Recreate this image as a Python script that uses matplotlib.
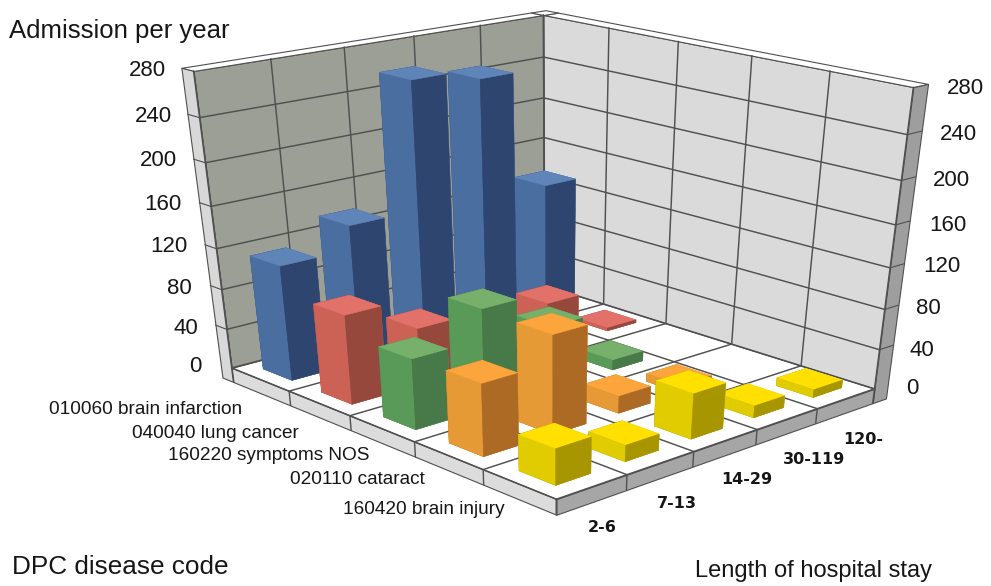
import numpy as np
import matplotlib
matplotlib.use("Agg")
import matplotlib.pyplot as plt
from mpl_toolkits.mplot3d.art3d import Poly3DCollection

W, H = 991, 586

diseases = ["160420 brain injury", "020110 cataract", "160220 symptoms NOS",
            "040040 lung cancer", "010060 brain infarction"]
stays = ["2-6", "7-13", "14-29", "30-119", "120-"]
z_ticks = [0, 40, 80, 120, 160, 200, 240, 280]

brain_infarction = [114, 137, 258, 248, 133]
lung_cancer = [88, 57, 18, 47, 3]
symptoms_nos = [69, 98, 63, 10, 0]
cataract = [70, 96, 17, 8, 0]
brain_injury = [35, 16, 45, 12, 8]
series = [brain_injury, cataract, symptoms_nos, lung_cancer, brain_infarction]

# colours per series: top, left face, right face
palette = [("#FFE000", "#E0CC00", "#A89600"),
           ("#FBA53C", "#E59A35", "#AD6A24"),
           ("#76B06A", "#5A9A58", "#477A48"),
           ("#E2716A", "#CC6256", "#96483C"),
           ("#5F84B8", "#4A6E9F", "#2E4570")]

# text anchors on the canvas
left_tick_xy = [(202, 366), (198, 328), (192, 288), (188, 247), (182, 205), (177, 161), (172, 117), (166, 70)]
right_tick_xy = [(906, 388), (910, 350), (916, 309), (923, 267), (929, 225), (933, 181), (940, 135), (947, 89)]
disease_xy = [(505, 509), (425, 480), (370, 456), (299, 434), (242, 410)]
stay_xy = [(602, 527), (677, 503), (747, 480), (814, 459), (863, 439)]

# calibration of the view: world (x, y, z) and where it lands on the canvas
world_pts = np.array([
    (0, 0, 0), (5, 0, 0), (0, 5, 0), (5, 5, 0),
    (0, 5, 280), (5, 0, 280), (5, 5, 280),
    (1, 0, 0), (4, 0, 0), (0, 1, 0), (0, 4, 0), (0, 3, 0),
    (0, 5, 240), (0, 5, 200), (0, 5, 40), (5, 0, 240), (5, 0, 40),
    (1, 5, 280), (2, 5, 280), (4, 5, 280), (5, 4, 280),
    (5, 4, 0), (5, 3, 0)], float)
canvas_pts = np.array([
    (556, 498), (874, 390), (232, 369), (547, 286),
    (195, 72), (913, 88), (543, 14),
    (627, 475), (817, 408), (484, 471), (290, 392), (350, 415),
    (200, 117), (205, 162), (225, 328), (908, 133), (880, 350),
    (270, 58), (343, 47), (480, 27), (610, 28),
    (602, 303), (665, 323)], float)


def fit_camera():
    N = np.diag([1 / 5, 1 / 5, 1 / 280, 1.0])
    rows = []
    for (x, y, z), (px, py) in zip(world_pts, canvas_pts):
        X = np.array([x / 5, y / 5, z / 280, 1.0])
        u, v = px / 1000, (H - py) / 1000
        rows.append(np.r_[X, 0 * X, -u * X])
        rows.append(np.r_[0 * X, X, -v * X])
    P = np.linalg.svd(np.array(rows))[2][-1].reshape(3, 4)
    return np.diag([1000, 1000, 1.0]) @ P @ N


plt.rcParams["font.family"] = ["Liberation Sans", "DejaVu Sans"]
fig = plt.figure(figsize=(W / 100, H / 100), dpi=100, facecolor="white")
ax = fig.add_axes([0, (H - W) / 2 / H, 1, W / H], projection="3d")
ax.set_axis_off()
ax.computed_zorder = False
P_disp = fit_camera()


def camera():
    inv = ax.transData.inverted()
    p0, p1 = inv.transform((0, 0)), inv.transform((1, 1))
    T = np.array([[p1[0] - p0[0], 0, p0[0]], [0, p1[1] - p0[1], p0[1]], [0, 0, 1]])
    P = T @ P_disp
    P = P / (P[2] @ np.array([0, 0, 0, 1.0]))
    return np.array([P[0], P[1], [0, 0, 0, -1.0], P[2]])


ax.get_proj = camera

GRID = "#505050"
tx, ty, slab = 0.24, 0.2, -15
xmax, ymax, ztop = 5 + tx, 5 + ty, 280


def face(verts, color, z):
    pc = Poly3DCollection([verts], facecolors=color, edgecolors=GRID, linewidths=0.8)
    pc.set_zorder(z)
    ax.add_collection3d(pc)


def seg(a, b, z=3, lw=1.05, c=GRID):
    ax.plot([a[0], b[0]], [a[1], b[1]], [a[2], b[2]], color=c, lw=lw, zorder=z,
            solid_capstyle="round")


# walls, floor and their slab
face([(0, 5, 0), (5, 5, 0), (5, 5, ztop), (0, 5, ztop)], "#9C9F96", 1)
face([(5, 0, 0), (5, 5, 0), (5, 5, ztop), (5, 0, ztop)], "#DADADA", 1)
face([(0, 0, 0), (5, 0, 0), (5, 5, 0), (0, 5, 0)], "#FFFFFF", 1)
face([(0, 5, ztop), (5, 5, ztop), (5, ymax, ztop), (0, ymax, ztop)], "#FFFFFF", 1)
face([(5, 0, ztop), (5, 5, ztop), (xmax, 5, ztop), (xmax, 0, ztop)], "#FFFFFF", 1)
face([(5, 5, ztop), (xmax, 5, ztop), (xmax, ymax, ztop), (5, ymax, ztop)], "#FFFFFF", 1)
face([(0, 5, slab), (0, ymax, slab), (0, ymax, ztop), (0, 5, ztop)], "#D8D8D8", 2)
face([(5, 0, slab), (xmax, 0, slab), (xmax, 0, ztop), (5, 0, ztop)], "#9E9E9E", 2)
face([(0, 0, slab), (0, 5, slab), (0, 5, 0), (0, 0, 0)], "#DCDCDC", 2)
face([(0, 0, slab), (5, 0, slab), (5, 0, 0), (0, 0, 0)], "#A6A6A6", 2)

for t in z_ticks[1:-1]:
    seg((0, 5, t), (5, 5, t))
    seg((5, 5, t), (5, 0, t))
    seg((0, ymax, t), (0, 5, t), lw=0.8)
    seg((xmax, 0, t), (5, 0, t), lw=0.8)
for k in range(6):
    seg((k, 5, 0), (k, 5, ztop))
    seg((5, k, 0), (5, k, ztop))
    seg((k, 0, 0), (k, 5, 0))
    seg((0, k, 0), (5, k, 0))
    seg((k, 0, slab), (k, 0, 0), lw=1.0)
    seg((0, k, slab), (0, k, 0), lw=1.0)

# bars, painted back to front
margin, width = 0.25, 0.5
order = sorted(((i, j) for i in range(5) for j in range(5)), key=lambda c: -(c[0] + c[1]))
for n, (i, j) in enumerate(order):
    h = series[j][i]
    if h <= 0:
        continue
    top, left, right = palette[j]
    # bar3d faces: -z, +z, -y, +y, -x, +x
    cols = [right, top, right, right, left, left]
    ax.bar3d(i + margin, j + margin, 0, width, width, h, color=cols, edgecolor=cols,
             linewidth=0.3, shade=False, zorder=10 + n)


def label(xy, s, **kw):
    fig.text(xy[0] / W, 1 - xy[1] / H, s, color="#161616", va="center", **kw)


# tick labels
for t, a, b in zip(z_ticks, left_tick_xy, right_tick_xy):
    label(a, str(t), ha="right", fontsize=16)
    label(b, str(t), ha="left", fontsize=16)
for name, xy in zip(diseases, disease_xy):
    label(xy, name, ha="right", fontsize=13.7)
for name, xy in zip(stays, stay_xy):
    label(xy, name, ha="center", fontsize=11.5, family="DejaVu Sans", weight="bold")

label((9, 31), "Admission per year", fontsize=18.5)
label((12, 567), "DPC disease code", fontsize=18.8)
label((695, 571), "Length of hospital stay", fontsize=17)

fig.savefig("out.png", dpi=100, facecolor="white")
